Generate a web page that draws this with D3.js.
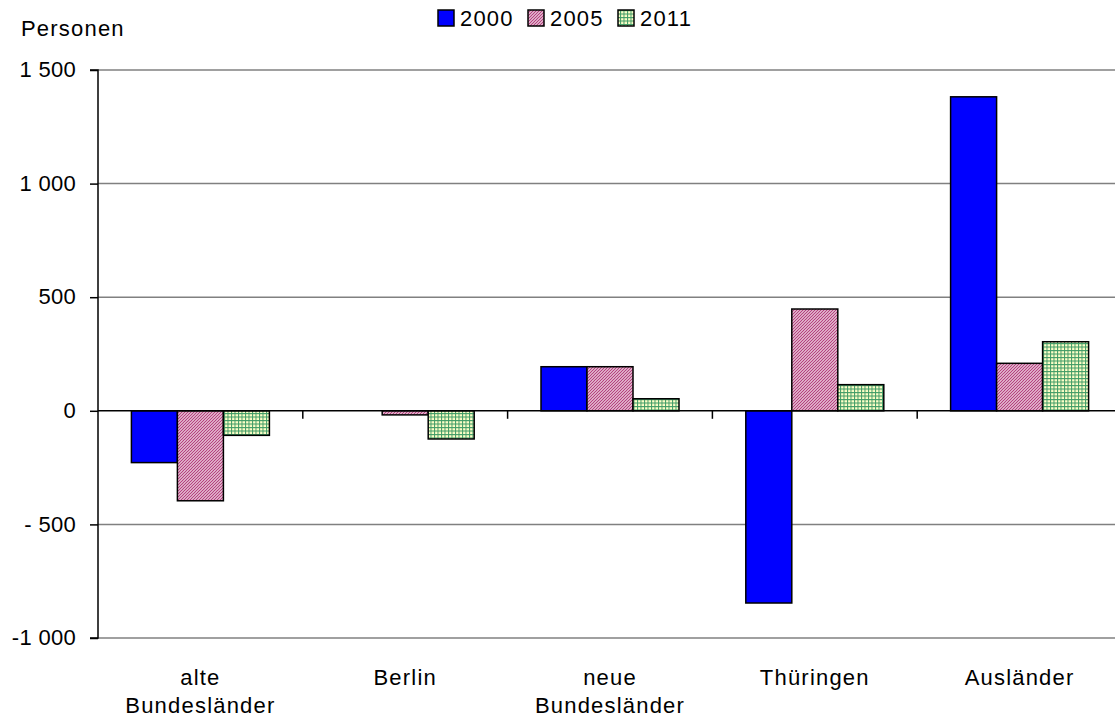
<!DOCTYPE html>
<html><head><meta charset="utf-8">
<script src="https://cdn.jsdelivr.net/npm/d3@7"></script>
<style>
body{margin:0;background:#fff}
svg{display:block}
text{font-family:"Liberation Sans",Arial,Helvetica,sans-serif;fill:#000;font-size:22px;letter-spacing:1.2px}
.tick text{letter-spacing:0.3px}
</style>
</head><body>
<svg id="c" width="1115" height="720"></svg>
<script>
// ---- data ----
const categories = ["alte Bundesländer","Berlin","neue Bundesländer","Thüringen","Ausländer"];
const categoryLines = [["alte","Bundesländer"],["Berlin"],["neue","Bundesländer"],["Thüringen"],["Ausländer"]];
const years = ["2000","2005","2011"];
const values2000 = [-228, 0, 194, -846, 1382];
const values2005 = [-396, -18, 194, 448, 209];
const values2011 = [-108, -124, 53, 115, 304];
const yTicks = [1500, 1000, 500, 0, -500, -1000];
const yTickLabels = ["1 500","1 000","500","0","- 500","-1 000"];
const yTitle = "Personen";

const series = [values2000, values2005, values2011];
const fills = ["#0000ff","url(#p2005)","url(#p2011)"];

const svg = d3.select("#c");
const W = 1115, H = 720;
const m = {left:98, top:70, bottom:638, right:1122};

// patterns
const defs = svg.append("defs");
const p1 = defs.append("pattern").attr("id","p2005").attr("patternUnits","userSpaceOnUse")
  .attr("width",3).attr("height",3);
p1.append("rect").attr("width",3).attr("height",3).attr("fill","#ffffff");
p1.append("path").attr("d","M-1,1 L1,-1 M0,3 L3,0 M2,4 L4,2")
  .attr("stroke","#b5427f").attr("stroke-width",1.3);
const p2 = defs.append("pattern").attr("id","p2011").attr("patternUnits","userSpaceOnUse")
  .attr("width",3.5).attr("height",3.5);
p2.append("rect").attr("width",3.5).attr("height",3.5).attr("fill","#ffffc8");
p2.append("path").attr("d","M0.5,0 V3.5 M0,0.5 H3.5").attr("stroke","#3f9b66").attr("stroke-width",1);

const y = d3.scaleLinear().domain([-1000,1500]).range([m.bottom, m.top]);
const x0 = d3.scaleBand().domain(categories).range([m.left, m.right]).padding(0);
const x1 = d3.scaleBand().domain(years).range([0, x0.bandwidth()]).paddingInner(0).paddingOuter(0.726);

// gridlines
svg.append("g").selectAll("line").data(yTicks.filter(t=>t!==0)).join("line")
  .attr("x1",m.left).attr("x2",W).attr("y1",d=>y(d)).attr("y2",d=>y(d))
  .attr("stroke","#808080").attr("stroke-width",1.5);

// bars
const g = svg.append("g");
series.forEach((vals, si) => {
  g.append("g").selectAll("rect").data(vals.map((v,i)=>({v, c:categories[i]})).filter(d=>d.v!==0)).join("rect")
    .attr("x", d => x0(d.c) + x1(years[si]))
    .attr("width", x1.bandwidth())
    .attr("y", d => y(Math.max(0,d.v)))
    .attr("height", d => Math.abs(y(d.v) - y(0)))
    .attr("fill", fills[si])
    .attr("stroke","#000").attr("stroke-width",1.5);
});

// zero axis line with category ticks
svg.append("line").attr("x1",m.left).attr("x2",W).attr("y1",y(0)).attr("y2",y(0))
  .attr("stroke","#000").attr("stroke-width",1.5);
svg.append("g").selectAll("line").data(categories.slice(1)).join("line")
  .attr("x1",d=>x0(d)).attr("x2",d=>x0(d)).attr("y1",y(0)).attr("y2",y(0)+8)
  .attr("stroke","#000").attr("stroke-width",1.5);

// y axis
const yAxis = d3.axisLeft(y).tickValues(yTicks).tickSize(8).tickPadding(14)
  .tickFormat((d,i)=>yTickLabels[i]);
const ya = svg.append("g").attr("transform",`translate(${m.left},0)`).call(yAxis);
ya.attr("font-size",null).attr("font-family",null);
ya.select(".domain").attr("stroke","#000").attr("stroke-width",1.5).attr("d",`M-8,${y(1500)}H0V${y(-1000)}H-8`);
ya.selectAll(".tick line").attr("stroke","#000").attr("stroke-width",1.5);
ya.selectAll(".tick text").attr("fill","#000").attr("dy","0.3em");

// y title
svg.append("text").attr("x",21).attr("y",36).text(yTitle);

// category labels
categoryLines.forEach((lines,i)=>{
  const cx = x0(categories[i]) + x0.bandwidth()/2;
  const t = svg.append("text").attr("text-anchor","middle");
  lines.forEach((l,j)=>{
    t.append("tspan").attr("x",cx).attr("y",685 + j*28).text(l);
  });
});

// legend
const leg = svg.append("g").attr("transform","translate(438,10)");
const legX = [0, 90, 180];
years.forEach((yr,i)=>{
  leg.append("rect").attr("x",legX[i]).attr("y",0).attr("width",16).attr("height",16)
    .attr("fill",fills[i]).attr("stroke","#000").attr("stroke-width",1.5);
  leg.append("text").attr("x",legX[i]+22).attr("y",16).text(yr);
});
</script>
</body></html>
